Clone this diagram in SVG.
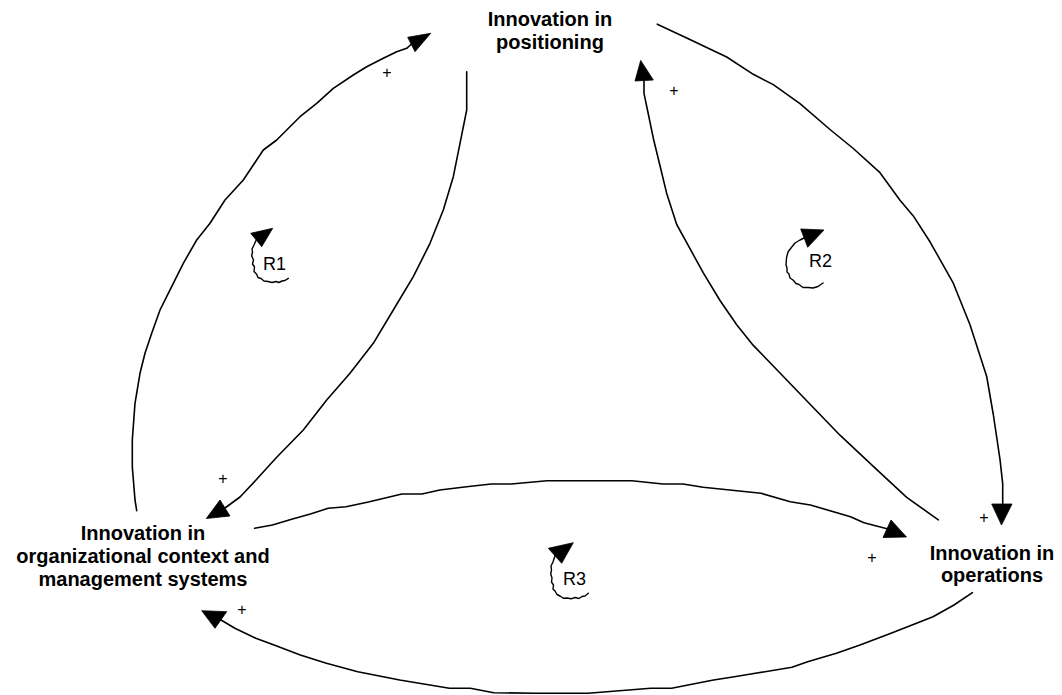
<svg xmlns="http://www.w3.org/2000/svg" width="1062" height="695" viewBox="0 0 1062 695">
  <style>
    .lbl { font-family: "Liberation Sans", Arial, sans-serif; font-weight: bold; font-size: 20px; text-anchor: middle; fill: #000; }
    .link { fill: none; stroke: #000; stroke-width: 1.6; stroke-linejoin: round; stroke-linecap: round; }
    .head { fill: #000; stroke: #000; stroke-width: 0.8; stroke-linejoin: round; }
    .sign { font-family: "Liberation Sans", Arial, sans-serif; font-size: 16px; text-anchor: middle; fill: #000; }
    .loop { fill: none; stroke: #000; stroke-width: 1.4; stroke-linejoin: round; stroke-linecap: round; }
    .loop-name { font-family: "Liberation Sans", Arial, sans-serif; font-size: 18px; fill: #000; }
  </style>
  <rect width="1062" height="695" fill="#fff"/>

  <!-- variables -->
  <g id="node-positioning">
    <text class="lbl" x="550" y="26">Innovation in</text>
    <text class="lbl" x="550" y="49">positioning</text>
  </g>
  <g id="node-organization">
    <text class="lbl" x="143" y="540">Innovation in</text>
    <text class="lbl" x="143" y="563">organizational context and</text>
    <text class="lbl" x="143" y="586">management systems</text>
  </g>
  <g id="node-operations">
    <text class="lbl" x="992" y="560">Innovation in</text>
    <text class="lbl" x="992" y="582">operations</text>
  </g>

  <!-- causal links with polarity signs -->
  <g id="connectors">
    <!-- organization -> positioning (outer left) -->
    <path class="link" d="M136.7,510.7 L135,500 L132.3,466.7 L132.3,440 L135,403.3 L140,373.3 L145,353.3 L151.7,333.3 L160,310 L168.3,293.3 L173.3,283.3 L183.3,263.3 L196.7,240 L210,223.3 L225,200 L243.3,180 L263.3,150 L276.7,140 L286.7,130 L300,116.7 L316.7,103.3 L333.3,88.3 L353.3,75 L366.7,66.7 L383.3,58.3 L396.7,51.7 L406.7,48.3 L411,44.5"/>
    <polygon class="head" points="430.7,33.3 407.7,37.3 415,51.7"/>
    <text class="sign" x="387" y="77.6">+</text>

    <!-- positioning -> organization (inner left) -->
    <path class="link" d="M466.7,71.7 L466.7,110 L460,143.3 L453.3,176.7 L443.3,210 L430,243.3 L413.3,276.7 L393.3,310 L373.3,343.3 L350,373.3 L326.7,400 L303.3,430 L276,458 L256,480 L240,497 L225,508"/>
    <polygon class="head" points="206.3,518.5 220,500 230,516"/>
    <text class="sign" x="223" y="483.6">+</text>

    <!-- organization -> operations (upper arc) -->
    <path class="link" d="M254.6,528.3 L272.4,525 L292.5,519 L310.4,514 L328.2,508.3 L346,506.7 L368.4,502 L401.9,494 L422,494 L439.8,490 L466.6,486.7 L491.2,484 L511.3,484 L547,480.7 L631.8,480.7 L663,484 L683,484 L703.2,487.3 L761,493.3 L790.3,501.7 L810.4,505 L850.5,516.7 L864,522.7 L887,528.7"/>
    <polygon class="head" points="906.5,537 891,520 883,537.5"/>
    <text class="sign" x="872" y="562.6">+</text>

    <!-- operations -> positioning (inner right) -->
    <path class="link" d="M938.3,519.8 L906.7,497.4 L873.3,466.3 L840,435.2 L806.7,400.7 L780,373 L753.3,345.4 L736.7,324.7 L720,300.5 L703.3,272.9 L690,248.7 L676.7,224.5 L666.7,193.4 L660,165.8 L653.3,138.2 L648.3,114 L644,93.3 L644,81"/>
    <polygon class="head" points="640.7,60.4 635,81 653.3,80"/>
    <text class="sign" x="674" y="95.6">+</text>

    <!-- positioning -> operations (outer right) -->
    <path class="link" d="M657.3,24.2 L686.7,38 L726.7,57 L753.3,74.3 L773.3,84.6 L800,103.6 L830,129.5 L853.3,148.5 L880,172.7 L900,200.3 L913.3,215.9 L930,241.8 L953.3,283.2 L970,324.7 L980,355.8 L986.7,376.5 L993.3,414.5 L1000,459.4 L1002.7,483.6 L1002.7,504"/>
    <polygon class="head" points="991.7,504 1012,504 1001.5,525"/>
    <text class="sign" x="984" y="522.6">+</text>

    <!-- operations -> organization (lower arc) -->
    <path class="link" d="M972.4,592.7 L954,605 L933,616.7 L912,625 L891,633.3 L860,645 L836.4,653.3 L807.6,661.7 L792,667.3 L755.3,673.3 L734.4,676.7 L713.5,680 L671.6,688.3 L650.7,688.3 L588,693.3 L535.6,693.3 L493.8,692.7 L470.3,688.3 L449.4,688.3 L399.7,680 L357.8,671.7 L326.4,663.3 L300.3,655 L274.1,645 L255.8,638.3 L234.9,628.3 L221,620"/>
    <polygon class="head" points="201.7,610.7 226.7,611.7 215,628.3"/>
    <text class="sign" x="242" y="614.6">+</text>
  </g>

  <!-- reinforcing loop markers -->
  <g id="loop-r1">
    <path class="loop" d="M288.3,278.3 L285,280.5 L282,281 L279,282.5 L276,281.5 L272,282.5 L268,281.5 L264,281 L261,278.5 L258,277.5 L256.5,274 L254,271.5 L254.5,267 L252.5,264 L253.5,260 L251.7,256 L252.5,252 L252,249 L254,245 L256.2,240"/>
    <polygon class="head" points="272.7,228.3 250.7,233.3 261.7,246.7"/>
    <text class="loop-name" x="263" y="270">R1</text>
  </g>
  <g id="loop-r2">
    <path class="loop" d="M823,283 L818,286.5 L813,288 L808,287.5 L803,287.5 L799,284.5 L796,283.5 L793,280 L790,278 L789,274 L787,272 L787,268 L786,265 L786.5,258 L788,252 L791,248 L795,243 L800,240 L804,238"/>
    <polygon class="head" points="824,230 800.7,229 807.7,247.3"/>
    <text class="loop-name" x="809" y="267">R2</text>
  </g>
  <g id="loop-r3">
    <path class="loop" d="M588.3,593.3 L585,596 L582,596.5 L579,598.5 L575,597.5 L571,598.8 L567,598 L563.3,598.3 L560,596 L557,594.5 L555,591 L553,589 L553.5,585 L551.5,582 L552,578 L550.7,574 L551.5,570 L551,566 L553,562 L555,555.8"/>
    <polygon class="head" points="573.3,542.7 548.3,548.3 561.7,563.3"/>
    <text class="loop-name" x="563" y="585">R3</text>
  </g>
</svg>
